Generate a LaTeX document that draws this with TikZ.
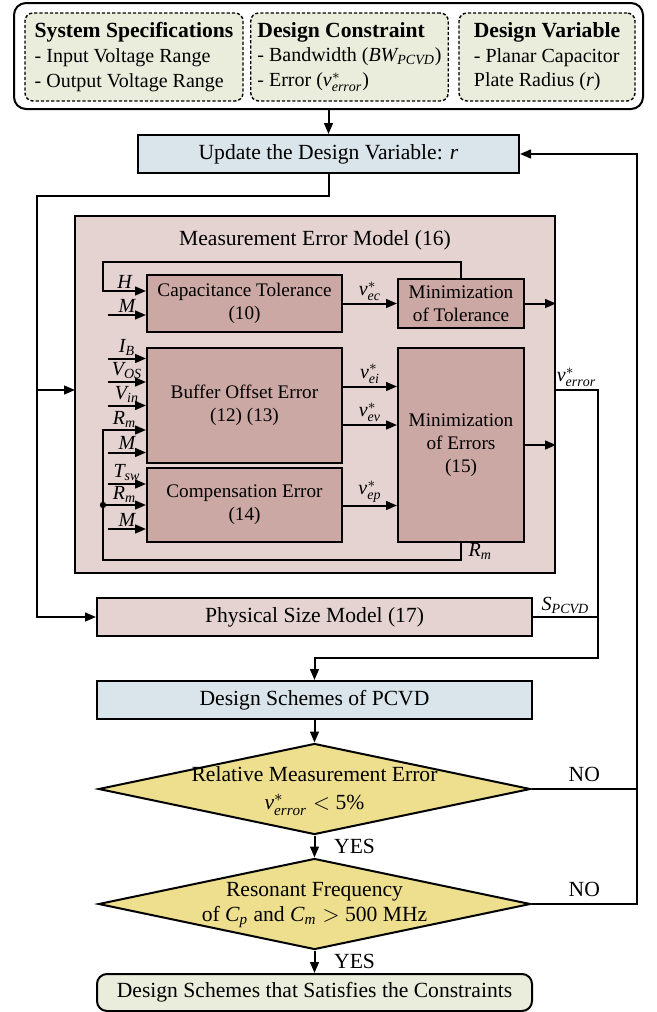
\documentclass[tikz,border=0pt]{standalone}
\usepackage{fontspec}
\setmainfont{Liberation Serif}
\usepackage{amsmath}
\usetikzlibrary{arrows.meta,shapes.geometric,calc}

\definecolor{specgreen}{RGB}{235,237,220}
\definecolor{stepblue}{RGB}{218,229,235}
\definecolor{modelpink}{RGB}{229,211,210}
\definecolor{blockrose}{RGB}{203,168,163}
\definecolor{checkyellow}{RGB}{238,223,143}

\tikzset{
  specbox/.style={draw, dash pattern=on 1.6pt off 1pt, rounded corners=4pt, fill=specgreen,
    line width=0.7pt, align=left, minimum height=44pt, font=\fontsize{10}{12.3}\selectfont},
  stepbox/.style={draw, line width=1pt, fill=stepblue, minimum height=19pt},
  modelbox/.style={draw, line width=1pt, fill=modelpink},
  blockbox/.style={draw, line width=1pt, fill=blockrose, align=center, font=\fontsize{9.6}{11.5}\selectfont},
  decision/.style={draw, diamond, line width=1pt, fill=checkyellow, inner sep=0pt,
    minimum width=216pt, minimum height=45.5pt},
  flow/.style={line width=1pt, -{Triangle[length=5.5pt,width=4.4pt]}},
  link/.style={line width=1pt},
  sig/.style={above, inner sep=1pt, font=\fontsize{10}{12}\selectfont},
}
\newcommand{\hd}[1]{{\fontsize{10.8}{12.3}\selectfont\bfseries #1}}

\begin{document}
\begin{tikzpicture}[x=0.5pt, y=-0.5pt, font=\fontsize{10.8}{12.5}\selectfont]
  \useasboundingbox (0,0) rectangle (657,1012);

  % inputs of the design
  \node[draw, rounded corners=6pt, line width=1pt, minimum width=314.5pt, minimum height=53pt] (req) at (328.5,56) {};
  \node[specbox, minimum width=109pt] (spec) at (134,57)
    {\hd{System Specifications}\\- Input Voltage Range\\- Output Voltage Range};
  \node[specbox, minimum width=96.5pt] (constr) at (349.5,57)
    {\hd{Design Constraint}\\- Bandwidth ($\mathit{BW}_{\mathit{PCVD}}$)\\- Error ($\mathit{v}^{*}_{\mathit{error}}$)};
  \node[specbox, minimum width=88pt] (var) at (547,57)
    {\hd{Design Variable}\\- Planar Capacitor\\Plate Radius ($\mathit{r}$)};

  \node[stepbox, minimum width=190.5pt] (update) at (328.5,154) {Update the Design Variable: $\mathit{r}$};

  % measurement error model
  \node[modelbox, minimum width=240pt, minimum height=178.5pt] (meas) at (315,394.5) {};
  \node (meastitle) at (315,240) {Measurement Error Model (16)};

  \node[blockbox, minimum width=97.5pt, minimum height=28.5pt] (captol) at (244.5,303.5) {Capacitance Tolerance\\(10)};
  \node[blockbox, minimum width=63pt, minimum height=24.5pt] (mintol) at (461,303.5) {Minimization\\of Tolerance};
  \node[blockbox, minimum width=97.5pt, minimum height=57.5pt] (buf) at (244.5,405.5) {Buffer Offset Error\\(12) (13)};
  \node[blockbox, minimum width=97.5pt, minimum height=37pt] (comp) at (244.5,505) {Compensation Error\\(14)};
  \node[blockbox, minimum width=63pt, minimum height=97pt] (minerr) at (461,445) {Minimization\\of Errors\\(15)};

  \node[modelbox, minimum width=217.5pt, minimum height=19pt] (phys) at (314.5,617) {Physical Size Model (17)};

  % checks
  \node[stepbox, minimum width=217.5pt] (schemes) at (314.5,700) {Design Schemes of PCVD};
  \node[decision] (relerr) at (314.5,789) {};
  \node[align=center, inner sep=1pt] (relerrtxt) at (314.5,791)
    {Relative Measurement Error\\[1.5pt]$\mathit{v}^{*}_{\mathit{error}}<$ 5\%};
  \node[decision] (resfreq) at (314.5,904) {};
  \node[align=center, inner sep=1pt] (resfreqtxt) at (314.5,905)
    {Resonant Frequency\\of $\mathit{C}_{\mathit{p}}$ and $\mathit{C}_{\mathit{m}}>$ 500 MHz};
  \node[draw, rounded corners=5pt, line width=1pt, fill=specgreen, minimum width=217.5pt, minimum height=18.5pt] (done)
    at (314.5,992.5) {Design Schemes that Satisfies the Constraints};

  % update -> models
  \coordinate (split) at (37,196);
  \coordinate (measin) at (75,390);
  \draw[flow] (req.south) -- (update.north);
  \draw[flow] (update.south) |- (split) |- (phys.west);
  \draw[flow] (split |- measin) -- (measin);

  % tolerance branch
  \coordinate (hloop) at (103,262);
  \draw[flow] (mintol.north) |- (hloop) |- node[pos=0.75, sig] {$\mathit{H}$} ($(captol.west)+(0,-12.5)$);
  \draw[flow] ($(captol.west)+(-38,11.5)$) -- node[sig] {$\mathit{M}$} ($(captol.west)+(0,11.5)$);
  \draw[flow] (captol) -- node[sig] {$\mathit{v}^{*}_{\mathit{ec}}$} (mintol);
  \draw[flow] (mintol.east) -- (mintol.east -| meas.east);

  % buffer and compensation inputs
  \foreach \dy/\lab in {-47/{\mathit{I}_{\mathit{B}}}, -23.5/{\mathit{V}_{\mathit{OS}}}, 0/{\mathit{V}_{\mathit{in}}}, 47/{\mathit{M}}}
    \draw[flow] ($(buf.west)+(-38,\dy)$) -- node[sig] {$\lab$} ($(buf.west)+(0,\dy)$);
  \foreach \dy/\lab in {-21/{\mathit{T}_{\mathit{sw}}}, 24/{\mathit{M}}}
    \draw[flow] ($(comp.west)+(-38,\dy)$) -- node[sig] {$\lab$} ($(comp.west)+(0,\dy)$);

  % R_m feedback
  \coordinate (rmloop) at (103,560);
  \draw[flow] (minerr.south) |- node[pos=0.25, right, font=\fontsize{10}{12}\selectfont] {$\mathit{R}_{\mathit{m}}$} (rmloop)
    |- node[pos=0.75, sig] {$\mathit{R}_{\mathit{m}}$} ($(buf.west)+(0,24.5)$);
  \fill (rmloop |- comp.west) circle (1.6pt);
  \draw[flow] (rmloop |- comp.west) -- node[sig] {$\mathit{R}_{\mathit{m}}$} (comp.west);

  % errors into minimization
  \foreach \src/\dy/\lab in {buf/-19/ei, buf/19.5/ev, comp/0.5/ep} {
    \coordinate (tail) at ($(\src.east)+(0,\dy)$);
    \draw[flow] (tail) -- node[sig] {$\mathit{v}^{*}_{\mathit{\lab}}$} (tail -| minerr.west);
  }
  \draw[flow] (minerr.east) -- (minerr.east -| meas.east);

  % models -> design schemes
  \coordinate (measout) at (555,390);
  \coordinate (merge) at (598,658);
  \draw[flow] (measout) -| node[pos=0.25, sig] {$\mathit{v}^{*}_{\mathit{error}}$} (merge) -| (schemes.north);
  \draw[link] (phys.east) -- node[sig] {$\mathit{S}_{\mathit{PCVD}}$} (phys.east -| merge);

  % checks
  \draw[flow] (schemes.south) -- (relerr.north);
  \draw[flow] (relerr.south) -- node[right, xshift=6pt] {YES} (resfreq.north);
  \draw[flow] (resfreq.south) -- node[right, xshift=6pt] {YES} (done.north);

  % back to the update step
  \coordinate (back) at (637,154);
  \draw[flow] (relerr.east) -| node[pos=0.25, above] {NO} (back) -- (update.east);
  \draw[link] (resfreq.east) -| node[pos=0.25, above] {NO} (relerr.east -| back);
\end{tikzpicture}
\end{document}
